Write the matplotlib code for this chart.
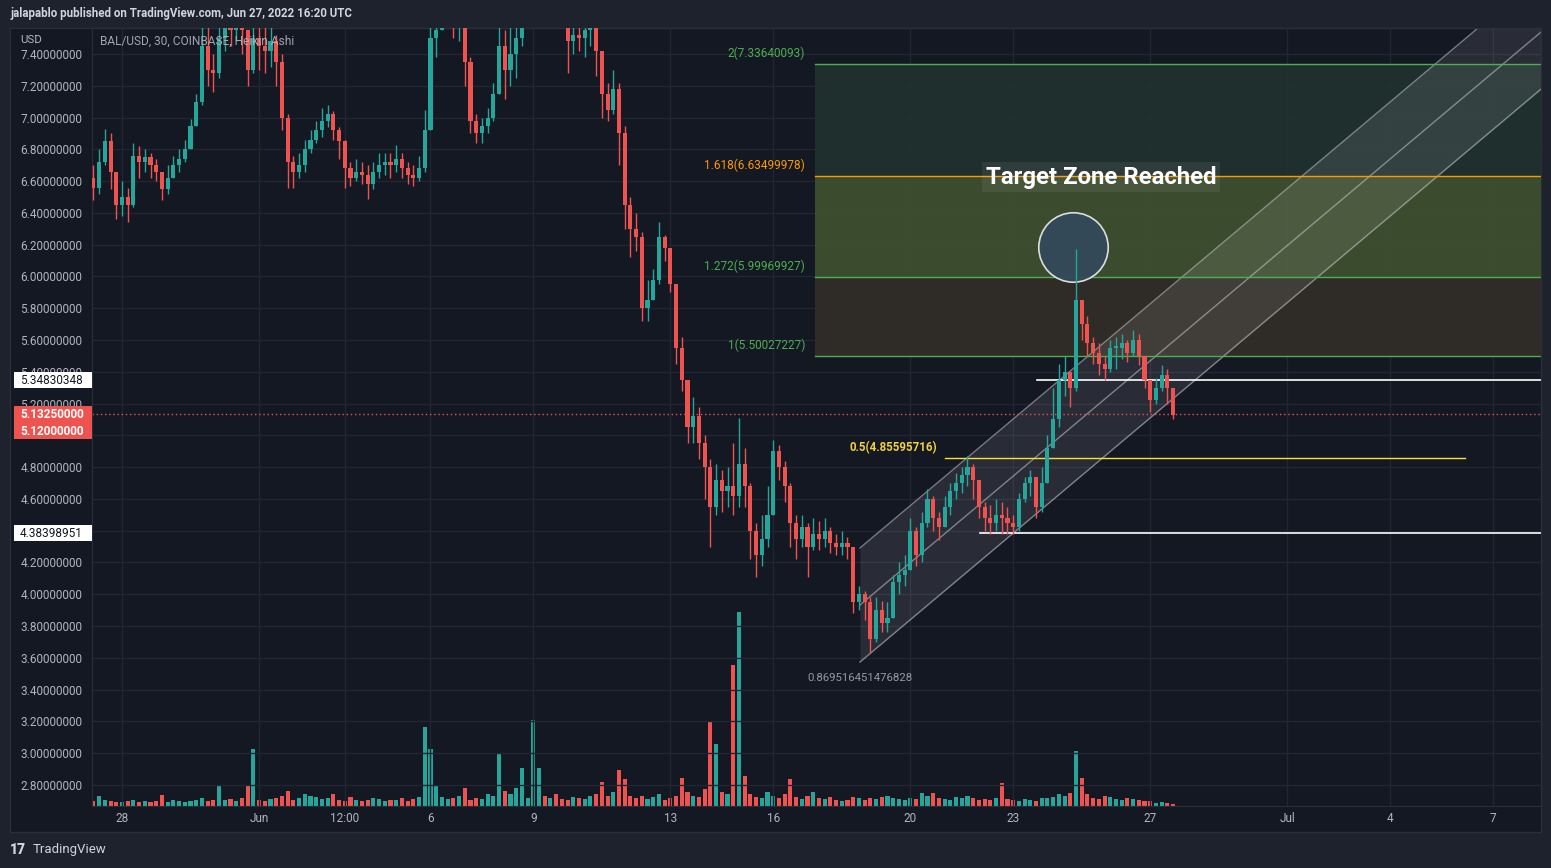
import numpy as np
import matplotlib.pyplot as plt
from matplotlib.patches import Rectangle
from matplotlib import transforms

plt.rcParams['font.family'] = ['Roboto', 'DejaVu Sans']

# --- datos: velas de 4h, t = días desde 27 may 2022 00:00 UTC ---
t_first = 1 / 6          # 27 may 04:00
first_open = 6.62

closes = [
    6.56, 6.72, 6.85, 6.66, 6.45,
    6.50, 6.45, 6.76, 6.72, 6.75, 6.70,
    6.66, 6.55, 6.62, 6.70, 6.74, 6.80,
    6.95, 7.10, 7.45, 7.30, 7.28, 7.50,
    7.58, 7.55, 7.62, 7.55, 7.30, 7.50,
    7.45, 7.42, 7.48, 7.35, 7.00, 6.72,
    6.66, 6.70, 6.80, 6.86, 6.92, 6.98,
    7.02, 6.92, 6.85, 6.68, 6.62, 6.66,
    6.64, 6.58, 6.66, 6.70, 6.72, 6.70,
    6.74, 6.68, 6.64, 6.62, 6.68, 6.92,
    7.50, 7.55, 7.75, 7.80, 7.60, 7.62,
    7.35, 6.98, 6.90, 6.95, 7.00, 7.15,
    7.45, 7.30, 7.40, 7.50, 7.65, 7.80,
    7.85, 7.90, 7.82, 7.88, 7.80, 7.75,
    7.48, 7.52, 7.50, 7.55, 7.58, 7.42,
    7.15, 7.05, 7.18, 6.90, 6.45, 6.30,
    6.25, 5.80, 5.85, 5.98, 6.25, 6.18,
    5.95, 5.55, 5.35, 5.05, 5.12, 4.95,
    4.80, 4.55, 4.72, 4.65, 4.68, 4.62,
    4.82, 4.68, 4.40, 4.25, 4.35, 4.50,
    4.90, 4.80, 4.68, 4.45, 4.35, 4.42,
    4.30, 4.38, 4.35, 4.40, 4.32, 4.30,
    4.32, 4.30, 3.95, 4.00, 3.95, 3.72,
    3.90, 3.82, 3.85, 4.08, 4.12, 4.15,
    4.40, 4.25, 4.45, 4.60, 4.48, 4.42,
    4.55, 4.65, 4.70, 4.75, 4.80, 4.72,
    4.55, 4.48, 4.45, 4.50, 4.48, 4.45,
    4.42, 4.60, 4.70, 4.74, 4.55, 4.70,
    4.92, 5.10, 5.35, 5.40, 5.30, 5.85,
    5.70, 5.58, 5.52, 5.45, 5.42, 5.55,
    5.55, 5.58, 5.52, 5.60, 5.50, 5.35,
    5.22, 5.30, 5.38, 5.30, 5.13,
]

highs = [
    6.70, 6.80, 6.93, 6.90, 6.62,
    6.60, 6.56, 6.84, 6.82, 6.80, 6.78,
    6.74, 6.66, 6.70, 6.76, 6.80, 6.86,
    6.99, 7.15, 7.60, 7.62, 7.40, 7.60,
    7.70, 7.70, 7.75, 7.70, 7.55, 7.62,
    7.60, 7.58, 7.60, 7.52, 7.40, 7.02,
    6.76, 6.78, 6.86, 6.92, 6.98, 7.06,
    7.08, 7.04, 6.94, 6.86, 6.72, 6.74,
    6.72, 6.70, 6.72, 6.78, 6.78, 6.78,
    6.83, 6.78, 6.72, 6.70, 6.76, 7.05,
    7.65, 7.70, 7.90, 7.95, 7.80, 7.75,
    7.60, 7.38, 7.02, 7.00, 7.06, 7.22,
    7.60, 7.55, 7.58, 7.62, 7.80, 7.95,
    7.95, 8.00, 7.95, 7.98, 7.92, 7.85,
    7.65, 7.62, 7.62, 7.65, 7.68, 7.60,
    7.30, 7.22, 7.30, 7.22, 6.95, 6.50,
    6.40, 6.28, 5.98, 6.05, 6.34, 6.26,
    6.10, 5.75, 5.62, 5.30, 5.24, 5.18,
    5.00, 4.85, 4.82, 4.78, 4.80, 4.95,
    5.11, 4.92, 4.70, 4.45, 4.50, 4.68,
    4.97, 4.94, 4.84, 4.70, 4.50, 4.50,
    4.45, 4.48, 4.46, 4.48, 4.42, 4.38,
    4.40, 4.36, 4.30, 4.05, 4.02, 3.98,
    3.98, 3.96, 3.95, 4.12, 4.20, 4.25,
    4.48, 4.42, 4.52, 4.66, 4.62, 4.52,
    4.62, 4.70, 4.76, 4.80, 4.87, 4.82,
    4.68, 4.58, 4.56, 4.60, 4.58, 4.55,
    4.50, 4.64, 4.74, 4.78, 4.74, 4.80,
    5.00, 5.30, 5.45, 5.50, 5.40, 6.17,
    5.85, 5.75, 5.62, 5.58, 5.50, 5.60,
    5.62, 5.64, 5.60, 5.66, 5.64, 5.50,
    5.35, 5.36, 5.44, 5.42, 5.30,
]

lows = [
    6.48, 6.52, 6.70, 6.55, 6.36,
    6.38, 6.34, 6.44, 6.62, 6.66, 6.62,
    6.60, 6.48, 6.52, 6.62, 6.66, 6.72,
    6.86, 6.95, 7.08, 7.20, 7.16, 7.25,
    7.42, 7.45, 7.48, 7.40, 7.20, 7.28,
    7.30, 7.28, 7.32, 7.20, 6.92, 6.56,
    6.56, 6.62, 6.66, 6.78, 6.84, 6.88,
    6.94, 6.86, 6.74, 6.56, 6.57, 6.60,
    6.58, 6.49, 6.55, 6.62, 6.64, 6.62,
    6.66, 6.62, 6.58, 6.57, 6.60, 6.66,
    7.05, 7.38, 7.58, 7.62, 7.50, 7.48,
    7.20, 6.90, 6.84, 6.84, 6.90, 6.98,
    7.15, 7.12, 7.20, 7.25, 7.45, 7.60,
    7.65, 7.72, 7.68, 7.70, 7.62, 7.60,
    7.28, 7.40, 7.42, 7.38, 7.45, 7.26,
    7.00, 6.98, 7.02, 6.70, 6.30, 6.12,
    6.16, 5.72, 5.72, 5.85, 5.95, 6.10,
    5.90, 5.45, 5.28, 4.95, 4.95, 4.85,
    4.60, 4.30, 4.50, 4.52, 4.55, 4.50,
    4.55, 4.55, 4.22, 4.11, 4.18, 4.30,
    4.70, 4.72, 4.58, 4.30, 4.22, 4.30,
    4.11, 4.28, 4.28, 4.30, 4.26, 4.25,
    4.25, 4.22, 3.88, 3.90, 3.84, 3.63,
    3.70, 3.76, 3.76, 3.85, 4.00, 4.05,
    4.15, 4.18, 4.20, 4.42, 4.40, 4.34,
    4.45, 4.50, 4.60, 4.64, 4.68, 4.60,
    4.48, 4.40, 4.38, 4.40, 4.38, 4.38,
    4.38, 4.40, 4.58, 4.62, 4.48, 4.52,
    4.82, 4.93, 5.05, 5.25, 5.18, 5.28,
    5.60, 5.50, 5.45, 5.38, 5.35, 5.40,
    5.42, 5.48, 5.46, 5.50, 5.44, 5.30,
    5.15, 5.20, 5.28, 5.20, 5.10,
]

volume = [
    5, 10, 6, 5, 4,
    4, 5, 6, 4, 5, 4,
    5, 11, 4, 6, 5, 4,
    5, 6, 8, 5, 6, 21,
    6, 7, 5, 8, 20, 57,
    6, 5, 7, 8, 10, 15,
    6, 8, 12, 10, 9, 7,
    8, 12, 6, 5, 9, 6,
    5, 6, 8, 7, 5, 6,
    6, 8, 5, 7, 9, 79,
    57, 21, 9, 7, 8, 10,
    18, 6, 8, 7, 12, 10,
    53, 15, 12, 18, 38, 8,
    86, 38, 10, 8, 12, 7,
    6, 9, 8, 7, 10, 12,
    24, 10, 14, 36, 27, 10,
    8, 10, 7, 9, 12, 6,
    8, 10, 28, 14, 10, 9,
    17, 85, 62, 14, 12, 141,
    194, 30, 12, 9, 8, 14,
    10, 8, 12, 27, 9, 7,
    10, 14, 8, 7, 9, 6,
    5, 6, 9, 8, 6, 8,
    7, 9, 10, 8, 7, 6,
    8, 7, 13, 10, 13, 8,
    7, 6, 9, 8, 10, 8,
    6, 7, 6, 8, 23, 7,
    6, 5, 7, 6, 5, 8,
    8, 9, 12, 10, 13, 55,
    28, 12, 8, 7, 10, 9,
    7, 6, 8, 7, 6, 5,
    5, 3, 4, 3, 2,
]

# ticks del eje temporal
x_ticks = [1, 5, 7.5, 10, 13, 17, 20, 24, 27, 31, 35, 38, 41]
x_labels = ['28', 'Jun', '12:00', '6', '9', '13', '16', '20', '23', '27', 'Jul', '4', '7']
y_ticks = np.round(np.arange(2.8, 7.41, 0.2), 2)
y_hidden = [5.0, 4.4]     # tapados por las etiquetas del eje

# extensión de Fibonacci
fib_ratios = ['2', '1.618', '1.272', '1']
fib_prices = [7.33640093, 6.63499978, 5.99969927, 5.50027227]
fib_start = 21.22
half_price = 4.85595716
half_span = (25.01, 40.18)

# líneas horizontales blancas
lvl_prices = [5.34830348, 4.38398951]
lvl_starts = [27.70, 26.03]

last_price = 5.1325
last_real = 5.12

# canal de regresión
chan_start = 22.53
chan_mid0 = 3.932
chan_slope = 0.1815
chan_half = 0.359
pearson = '0.869516451476828'

circle_t, circle_p = 28.75, 6.185

# --- estilo ---
W, H = 1551, 868
BG_OUT = '#1e222d'
BG = '#141823'
GRID = '#222632'
BORDER = '#2a2e39'
TXT = '#b2b5be'
GREEN = '#26a69a'
RED = '#ef5350'

c = np.array(closes)
hi = np.array(highs)
lo = np.array(lows)
vol = np.array(volume)
t = t_first + np.arange(len(c)) / 6
o = np.r_[first_open, c[:-1]]
hi = np.maximum(hi, np.maximum(o, c))
lo = np.minimum(lo, np.minimum(o, c))
colors = np.where(c >= o, GREEN, RED)

fig = plt.figure(figsize=(W / 100, H / 100), dpi=100, facecolor=BG_OUT)
fig.patches.append(Rectangle((10 / W, 1 - 832 / H), 1531 / W, 804 / H, transform=fig.transFigure,
                             facecolor=BG, edgecolor=BORDER, lw=1, zorder=-1))

ax = fig.add_axes([92 / W, 1 - 806 / H, (1541 - 92) / W, (806 - 28) / H])
ax2 = ax.twinx()
ax.set_zorder(ax2.get_zorder() + 1)
ax.patch.set_visible(False)
ax2.patch.set_visible(False)

x0, x1 = 0.125, 42.40
ax.set_xlim(x0, x1)
ax.set_ylim(2.667, 7.564)

# volumen
ax2.bar(t, vol, width=0.12, color=colors, linewidth=0)
ax2.set_ylim(0, vol.max() * 4.0)
ax2.set_yticks([])
for s in ax2.spines.values():
    s.set_visible(False)

# grid
ax.set_axisbelow(True)
ax.grid(True, color=GRID, lw=1)

# zonas fib (semitransparentes sobre el grid)
fib_cols = ['#213330', '#41532f', '#332e27']
for i in range(3):
    ax.fill_between([fib_start, x1], fib_prices[i + 1], fib_prices[i], color=fib_cols[i],
                    alpha=0.88, lw=0, zorder=0.6)
fib_line_cols = ['#4caf50', '#ff9800', '#4caf50', '#4caf50']
for r, p, lc in zip(fib_ratios, fib_prices, fib_line_cols):
    ax.plot([fib_start, x1], [p, p], color=lc, lw=1, zorder=1.5)
    ax.text(20.93, p + 0.025, f'{r}({p:.8f})', color=lc, fontsize=8.5, ha='right', va='bottom')

# canal
ch_t = np.array([chan_start, x1])
mid = chan_mid0 + chan_slope * (ch_t - chan_start)
ax.fill_between(ch_t, mid - chan_half, mid + chan_half, color='white', alpha=0.09, lw=0, zorder=1)
for off in (-chan_half, 0, chan_half):
    ax.plot(ch_t, mid + off, color='#c8cad0', alpha=0.55, lw=1, zorder=1.2)
ax.text(chan_start, 3.47, pearson, color='#9598a1', fontsize=8.2, ha='center', va='center')

# nivel 0.5
ax.plot(half_span, [half_price, half_price], color='#f7e13b', lw=1, zorder=1.5)
ax.text(24.78, half_price + 0.07, f'0.5({half_price:.8f})', color='#f2d13a', fontsize=8.3,
        fontweight='bold', ha='right', va='center')

# niveles blancos
for p, s in zip(lvl_prices, lvl_starts):
    ax.plot([s, x1], [p, p], color='white', lw=1.2, zorder=1.6)

# precio actual
ax.axhline(last_price, color=RED, lw=1, ls=(0, (1, 2)), zorder=1.7)

# círculo
ax.plot(circle_t, circle_p, 'o', ms=50, mfc='#34495a', mec='#e6e6e6', mew=1.2, alpha=0.95, zorder=2.5)

# velas
ax.vlines(t, lo, hi, colors=colors, lw=1, zorder=3)
ax.bar(t, np.maximum(np.abs(c - o), 0.01), bottom=np.minimum(o, c), width=0.12,
       color=colors, linewidth=0, zorder=3)

ax.text(29.56, 6.626, 'Target Zone Reached', ha='center', va='center', fontsize=17.2,
        fontweight='bold', color='white', zorder=4,
        bbox=dict(boxstyle='square,pad=0.15', fc=(1, 1, 1, 0.07), ec='none'))

# ejes
ax.set_yticks(y_ticks)
ax.set_yticklabels(['' if v in y_hidden else f'{v:.8f}' for v in y_ticks])
ax.set_xticks(x_ticks)
ax.set_xticklabels(x_labels)
ax.tick_params(axis='both', length=0, colors=TXT, labelsize=8.5)
ax.tick_params(axis='y', pad=7)
ax.tick_params(axis='x', pad=4.5)
for s in ax.spines.values():
    s.set_color(BORDER)

# etiquetas en el eje de precios
bt = transforms.blended_transform_factory(fig.transFigure, ax.transData)
for p in lvl_prices:
    ax.add_patch(Rectangle((14 / W, p - 0.05), 78 / W, 0.1, transform=bt,
                           facecolor='white', edgecolor='none', clip_on=False, zorder=5))
    ax.text(20 / W, p, f'{p:.8f}', transform=bt, color='#131722',
            fontsize=8.5, va='center', ha='left', clip_on=False, zorder=6)
ax.add_patch(Rectangle((14 / W, 4.977), 78 / W, 0.208, transform=bt,
                       facecolor=RED, edgecolor='none', clip_on=False, zorder=5))
ax.text(20 / W, 5.132, f'{last_price:.8f}', transform=bt, color='white', fontsize=8.5,
        fontweight='bold', va='center', ha='left', clip_on=False, zorder=6)
ax.text(20 / W, 5.025, f'{last_real:.8f}', transform=bt, color='white', fontsize=8.5,
        fontweight='bold', va='center', ha='left', clip_on=False, zorder=6)

# cabecera de la escala
fig.patches.append(Rectangle((11 / W, 1 - 50 / H), 80 / W, 21 / H, transform=fig.transFigure,
                             facecolor=BG, edgecolor='none', zorder=3))
fig.text(20 / W, 1 - 40 / H, 'USD', color=TXT, fontsize=8.2, va='center', zorder=4)
fig.text(100 / W, 1 - 41 / H, 'BAL/USD, 30, COINBASE, Heikin Ashi', color=TXT, fontsize=8.6,
         va='center', alpha=0.9, zorder=4)

fig.text(10 / W, 1 - 14 / H, 'jalapablo published on TradingView.com, Jun 27, 2022 16:20 UTC',
         color='#d1d4dc', fontsize=8.3, fontweight='bold', va='center')
fig.text(10 / W, 1 - 850 / H, '17', color='#d1d4dc', fontsize=10, fontweight='heavy', va='center')
fig.text(33 / W, 1 - 850 / H, 'TradingView', color='#d1d4dc', fontsize=9.5, va='center')

fig.savefig('out.png', dpi=100, facecolor=BG_OUT)
